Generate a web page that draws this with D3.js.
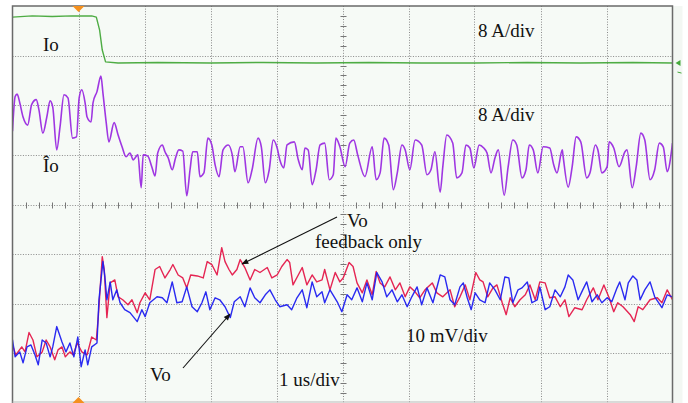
<!DOCTYPE html>
<html><head><meta charset="utf-8">
<script src="https://cdn.jsdelivr.net/npm/d3@7"></script>
<style>body{margin:0;background:#fff;overflow:hidden} svg{display:block}</style>
</head><body><svg id="c" width="688" height="403"></svg>
<script>
// ---------- data ----------
// time in microseconds (1 us/div, 10 divisions)
const timeDivs = d3.range(0, 11);
const ampDivs = d3.range(0, 9);
// Io (A), 8 A/div
const ioData = [[0,7.4],[0.3,7.6],[0.6,7.5],[0.9,7.6],[1.2,7.6],[1.27,7.4],[1.32,5.3],[1.36,2.1],[1.41,0.2],[1.6,0],[2.2,0.1],[3.0,0],[3.8,0.1],[4.6,0],[5.4,0.1],[6.2,0],[7.0,0],[7.8,0.1],[8.6,0],[9.4,0.1],[10,0]];
// I^o (A), 8 A/div
const ioHatData = [[0,3.8],[0.04,9.4],[0.07,9.8],[0.11,8.4],[0.16,6.1],[0.23,4.8],[0.29,8.1],[0.36,8.9],[0.40,7.3],[0.46,3.5],[0.52,6.1],[0.57,8.7],[0.61,7.7],[0.67,0.8],[0.72,4.5],[0.78,9.7],[0.84,9.2],[0.91,2.7],[0.97,2.9],[1.01,9.2],[1.05,10.5],[1.10,8.4],[1.13,6.1],[1.19,5.3],[1.22,8.4],[1.28,10.2],[1.34,12.7],[1.37,10.0],[1.42,5.2],[1.46,2.1],[1.54,5.2],[1.60,3.2],[1.66,1.3],[1.72,-0.3],[1.78,0.3],[1.83,-0.8],[1.87,-0.3],[1.90,0],[1.95,-5.3],[1.98,0],[2.05,-0.2],[2.11,-1.9],[2.16,-3.4],[2.20,0.3],[2.27,1.6],[2.31,0.5],[2.36,-0.5],[2.42,-2.4],[2.47,-0.5],[2.52,0.8],[2.58,0.6],[2.64,-6.6],[2.69,-2.4],[2.73,0.5],[2.80,0.5],[2.84,-3.5],[2.90,-2.9],[2.96,2.7],[3.02,1.6],[3.07,-1.6],[3.13,-3.5],[3.19,0.8],[3.27,1.6],[3.33,0],[3.37,-2.7],[3.45,1.3],[3.49,1.3],[3.57,-4.5],[3.63,-2.4],[3.72,2.7],[3.77,1.3],[3.83,-4.5],[3.89,-2.4],[3.95,2.4],[4.01,1.1],[4.05,-0.8],[4.11,-2.1],[4.16,1.6],[4.27,2.1],[4.33,-0.8],[4.39,-2.4],[4.43,1.1],[4.48,0.8],[4.54,-4.8],[4.60,-2.4],[4.66,1.6],[4.73,1.9],[4.80,-4.0],[4.86,-3.2],[4.90,2.7],[4.96,1.3],[5.04,-1.9],[5.11,1.9],[5.17,2.4],[5.23,0],[5.34,-3.5],[5.45,1.3],[5.51,-4.0],[5.57,-2.9],[5.63,2.7],[5.70,1.6],[5.77,-5.6],[5.83,-2.9],[5.90,1.6],[5.95,0.8],[6.02,-2.4],[6.10,2.4],[6.20,1.6],[6.28,-3.2],[6.34,-2.4],[6.40,0.5],[6.48,-6.0],[6.52,-1.9],[6.58,3.2],[6.67,1.9],[6.73,-3.7],[6.81,-2.9],[6.87,1.6],[6.93,1.1],[6.99,-2.1],[7.07,1.6],[7.14,1.1],[7.19,0.3],[7.25,-2.9],[7.31,-0.5],[7.36,0.8],[7.45,-6.5],[7.51,-1.9],[7.58,2.4],[7.64,1.6],[7.72,-3.7],[7.78,-2.4],[7.83,1.6],[7.89,0.8],[7.96,-2.9],[8.04,1.3],[8.14,1.1],[8.20,-1.6],[8.25,-2.9],[8.33,0.8],[8.34,0],[8.42,-5.2],[8.48,-1.9],[8.54,2.9],[8.61,2.1],[8.70,-3.7],[8.75,-2.9],[8.83,1.6],[8.87,0.8],[8.93,-2.9],[9.01,-1.9],[9.04,2.1],[9.11,1.1],[9.19,-1.9],[9.28,0.5],[9.31,0.8],[9.39,-5.3],[9.45,-1.9],[9.52,3.5],[9.58,2.4],[9.66,-4.0],[9.73,-2.4],[9.80,1.9],[9.86,1.3],[9.92,-2.7],[10,1.9]];
// Vo, feedback only (mV), 10 mV/div
const voFbData = [[0,-8.3],[0.05,-10.3],[0.14,-8.7],[0.19,-9.7],[0.25,-5.8],[0.31,-7.3],[0.37,-10.7],[0.45,-9.7],[0.51,-7.3],[0.57,-8.7],[0.64,-11.3],[0.69,-9.3],[0.75,-8.7],[0.80,-10.7],[0.87,-9.7],[0.92,-10.3],[0.98,-7.9],[1.05,-9.7],[1.13,-10.3],[1.20,-6.7],[1.27,-7.3],[1.30,-2.6],[1.36,9.5],[1.39,6.9],[1.43,-2.8],[1.48,4.2],[1.55,4.8],[1.60,1.4],[1.67,0.8],[1.75,-0.2],[1.81,0.8],[1.89,-1.8],[1.93,0.2],[2.01,2.2],[2.08,0.8],[2.16,6.9],[2.23,7.5],[2.31,5.2],[2.39,6.9],[2.43,7.9],[2.51,5.8],[2.58,5.2],[2.64,3.2],[2.70,5.8],[2.80,5.6],[2.89,5.2],[2.95,8.5],[3.02,7.9],[3.10,5.8],[3.17,11.3],[3.22,8.5],[3.28,6.9],[3.33,5.8],[3.40,6.9],[3.45,8.9],[3.52,7.3],[3.60,4.8],[3.67,6.9],[3.75,6.3],[3.86,7.3],[3.93,5.2],[4.01,5.8],[4.08,7.5],[4.16,8.9],[4.20,8.3],[4.25,3.8],[4.33,5.8],[4.39,7.3],[4.46,3.8],[4.54,5.8],[4.61,4.4],[4.69,4.8],[4.73,6.9],[4.81,2.8],[4.89,6.3],[4.96,4.4],[5.01,5.2],[5.10,8.3],[5.16,7.5],[5.22,4.2],[5.30,2.2],[5.37,4.8],[5.45,1.8],[5.51,6.5],[5.57,4.2],[5.64,3.4],[5.72,5.4],[5.80,2.8],[5.87,4.2],[5.95,1.4],[6.02,3.4],[6.10,2.4],[6.17,1.2],[6.25,2.8],[6.36,4.2],[6.43,2.2],[6.52,1.4],[6.63,2.8],[6.70,-0.6],[6.78,1.4],[6.86,3.8],[6.93,0.8],[7.02,6.3],[7.08,4.8],[7.13,4.4],[7.20,1.4],[7.28,3.2],[7.34,3.8],[7.42,0.2],[7.48,-2.2],[7.54,1.2],[7.61,-0.6],[7.69,0.8],[7.77,1.8],[7.84,3.8],[7.92,0.8],[7.99,4.4],[8.07,4.2],[8.14,1.2],[8.22,1.4],[8.30,-0.6],[8.37,0.8],[8.43,-2.6],[8.52,-0.8],[8.63,-1.2],[8.70,0.8],[8.80,3.2],[8.87,0.8],[8.96,3.8],[9.04,1.2],[9.11,-1.6],[9.17,0.2],[9.25,-0.6],[9.36,-2.2],[9.42,-3.6],[9.48,-0.6],[9.55,-1.2],[9.66,0.8],[9.77,1.2],[9.84,0.2],[9.92,2.8],[10,0.8]];
// Vo (mV), 10 mV/div
const voData = [[0,-7.3],[0.04,-10.7],[0.11,-9.7],[0.16,-11.9],[0.22,-8.7],[0.28,-8.3],[0.34,-10.3],[0.39,-12.3],[0.45,-7.3],[0.51,-7.9],[0.57,-10.7],[0.61,-8.7],[0.67,-4.6],[0.75,-7.7],[0.81,-9.7],[0.87,-7.9],[0.93,-10.7],[0.99,-6.7],[1.04,-12.7],[1.10,-9.3],[1.14,-12.3],[1.20,-8.7],[1.28,-7.9],[1.31,0.8],[1.37,8.5],[1.40,5.4],[1.43,0.8],[1.48,4.4],[1.52,0.8],[1.58,2.8],[1.63,0.2],[1.70,-1.2],[1.78,-1.8],[1.89,-3.6],[1.96,-1.2],[2.01,-2.6],[2.08,0.2],[2.19,1.4],[2.27,1.2],[2.34,0.2],[2.42,4.4],[2.49,0.2],[2.57,0.4],[2.64,3.4],[2.72,-0.6],[2.80,-1.6],[2.87,0.2],[2.93,2.4],[2.99,-1.2],[3.07,1.2],[3.14,0.8],[3.22,-0.6],[3.30,-2.8],[3.36,0.4],[3.45,1.4],[3.52,-0.6],[3.60,3.2],[3.67,1.2],[3.75,0.2],[3.83,1.8],[3.90,2.8],[3.98,0.8],[4.05,-0.6],[4.16,-0.2],[4.23,-1.2],[4.31,1.2],[4.39,2.8],[4.46,-0.8],[4.54,4.4],[4.61,1.4],[4.69,2.4],[4.73,0.2],[4.81,2.8],[4.92,0.4],[4.99,-1.6],[5.07,1.8],[5.14,0.8],[5.22,3.2],[5.30,0.4],[5.37,4.2],[5.45,0.8],[5.52,6.3],[5.60,4.4],[5.67,1.4],[5.75,2.8],[5.83,0.4],[5.90,1.8],[5.98,-0.6],[6.05,1.4],[6.13,3.4],[6.20,-0.2],[6.28,3.2],[6.37,0.2],[6.48,5.8],[6.55,5.4],[6.63,0.8],[6.70,-0.2],[6.78,3.4],[6.83,4.2],[6.89,1.2],[6.95,-1.2],[7.01,2.2],[7.08,0.8],[7.16,0.2],[7.23,4.2],[7.31,2.8],[7.39,0.8],[7.46,5.4],[7.52,5.2],[7.58,0.2],[7.66,2.8],[7.72,3.2],[7.80,4.4],[7.87,0.2],[7.95,0.8],[7.99,3.4],[8.07,-1.2],[8.14,-0.6],[8.22,2.8],[8.30,1.4],[8.37,3.4],[8.42,5.8],[8.49,4.8],[8.57,0.8],[8.64,2.8],[8.70,4.4],[8.78,0.4],[8.86,1.8],[8.93,0.2],[9.01,1.2],[9.08,0.4],[9.16,3.2],[9.20,4.4],[9.28,0.8],[9.33,4.2],[9.40,5.6],[9.46,4.8],[9.51,0.8],[9.58,2.8],[9.66,4.4],[9.73,1.4],[9.84,-0.8],[9.92,1.8],[10,1.4]];
// channel settings: units per division and zero-level in divisions (from bottom)
const channels = [
  {name:"Io", data: ioData, perDiv: 8, zeroDiv: 6.85, color:"#44a83a", smooth:false},
  {name:"IoHat", data: ioHatData, perDiv: 8, zeroDiv: 5.0, color:"#9a2be0", smooth:true},
  {name:"VoFb", data: voFbData, perDiv: 10, zeroDiv: 2.0, color:"#e4194a", smooth:false},
  {name:"Vo", data: voData, perDiv: 10, zeroDiv: 2.0, color:"#1f1ff0", smooth:false}
];

// ---------- drawing ----------
const svg = d3.select("#c");
const L = 12.5, R = 672.5, T = 6, B = 403;
const x = d3.scaleLinear().domain([0, 10]).range([L, R]);
const yDiv = d3.scaleLinear().domain([0, 8]).range([B, T]);
const serif = "'Liberation Serif','Times New Roman',serif";

svg.append("rect").attr("x", R).attr("y", T).attr("width", 10).attr("height", B - T).attr("fill", "#f3f7f3");
svg.append("rect").attr("x", L).attr("y", T).attr("width", R - L).attr("height", B - T).attr("fill", "#f6faf6");

const grid = svg.append("g").attr("stroke", "#8a8a8a").attr("stroke-width", 1).attr("stroke-dasharray", "1,1.6");
grid.selectAll("line.v").data(timeDivs.filter(d => d > 0 && d < 10)).join("line")
  .attr("x1", d => Math.round(x(d)) + 0.5).attr("x2", d => Math.round(x(d)) + 0.5)
  .attr("y1", T).attr("y2", B);
grid.selectAll("line.h").data(ampDivs.filter(d => d > 0 && d < 8)).join("line")
  .attr("class", "h")
  .attr("y1", d => Math.round(yDiv(d)) + 0.5).attr("y2", d => Math.round(yDiv(d)) + 0.5)
  .attr("x1", L).attr("x2", R);

// center axis minor ticks
const ticks = svg.append("g").attr("stroke", "#777").attr("stroke-width", 1);
const cy = Math.round(yDiv(4)) + 0.5, cx = Math.round(x(5)) + 0.5;
ticks.selectAll("line.tx").data(d3.range(1, 50).filter(i => i % 5 !== 0)).join("line")
  .attr("x1", i => Math.round(x(i / 5)) + 0.5).attr("x2", i => Math.round(x(i / 5)) + 0.5)
  .attr("y1", cy - 3).attr("y2", cy + 3);
ticks.selectAll("line.ty").data(d3.range(1, 40).filter(i => i % 5 !== 0)).join("line")
  .attr("class", "ty")
  .attr("y1", i => Math.round(yDiv(i / 5)) + 0.5).attr("y2", i => Math.round(yDiv(i / 5)) + 0.5)
  .attr("x1", cx - 3).attr("x2", cx + 3);

// traces
const clip = svg.append("clipPath").attr("id", "pc").append("rect")
  .attr("x", L).attr("y", T).attr("width", R - L).attr("height", B - T);
const tr = svg.append("g").attr("clip-path", "url(#pc)");
channels.forEach(ch => {
  const line = d3.line().x(d => x(d[0])).y(d => yDiv(ch.zeroDiv + d[1] / ch.perDiv))
    .curve(ch.smooth ? d3.curveMonotoneX : d3.curveLinear);
  tr.append("path").datum(ch.data).attr("d", line)
    .attr("fill", "none").attr("stroke", ch.color).attr("stroke-width", ch.smooth ? 1.6 : 1.4)
    .attr("stroke-linejoin", "round").attr("opacity", 0.95);
});

// frame
svg.append("path").attr("d", `M${L},${B}V${T}H${R}V${B}`).attr("fill", "none").attr("stroke", "#6a6a6a").attr("stroke-width", 1.5);
svg.append("line").attr("x1", L).attr("x2", R).attr("y1", B - 1).attr("y2", B - 1).attr("stroke", "#bbb");

// trigger markers
const trigX = x(1);
svg.append("path").attr("d", `M${trigX - 6},${T}L${trigX + 6},${T}L${trigX},${T + 6}Z`).attr("fill", "#f5901e");
svg.append("path").attr("d", `M${trigX - 6},${B}L${trigX + 6},${B}L${trigX},${B - 6}Z`).attr("fill", "#f5901e");
// ground marker for Io
const gy = yDiv(channels[0].zeroDiv);
svg.append("path").attr("d", `M${R + 3},${gy}L${R + 8},${gy - 3}L${R + 8},${gy + 3}Z`).attr("fill", "#44a83a");
svg.append("line").attr("x1", R + 5).attr("x2", R + 9).attr("y1", gy + 9).attr("y2", gy + 10).attr("stroke", "#44a83a");

// labels
const txt = (s, tx, ty, size) => svg.append("text").attr("x", tx).attr("y", ty)
  .attr("font-family", serif).attr("font-size", size).attr("fill", "#111").text(s);
txt("Io", 43, 51, 19);
txt("8 A/div", 478, 37, 19);
txt("8 A/div", 478, 121, 19);
txt("\u00CEo", 43, 172, 19);
txt("Vo", 347, 227, 19);
txt("feedback only", 315, 248, 19);
txt("10 mV/div", 406, 342, 19);
txt("Vo", 150, 381, 19);
txt("1 us/div", 279, 386, 19);

// arrows
const defs = svg.append("defs");
defs.append("marker").attr("id", "ah").attr("viewBox", "0 0 10 10").attr("refX", 9).attr("refY", 5)
  .attr("markerWidth", 9).attr("markerHeight", 7).attr("orient", "auto").attr("markerUnits", "userSpaceOnUse")
  .append("path").attr("d", "M0,1L10,5L0,9Z").attr("fill", "#111");
svg.append("line").attr("x1", 337).attr("y1", 217).attr("x2", 242).attr("y2", 264)
  .attr("stroke", "#111").attr("stroke-width", 1.1).attr("marker-end", "url(#ah)");
svg.append("line").attr("x1", 183).attr("y1", 368).attr("x2", 230).attr("y2", 314)
  .attr("stroke", "#111").attr("stroke-width", 1.1).attr("marker-end", "url(#ah)");
</script></body></html>
